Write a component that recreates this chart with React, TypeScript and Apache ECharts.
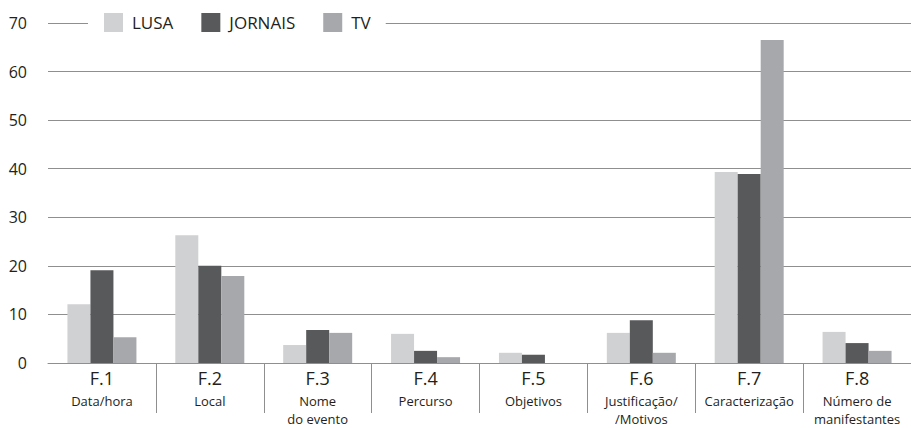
import React, { useEffect, useRef } from "react";
import * as echarts from "echarts";

const codes = ["F.1", "F.2", "F.3", "F.4", "F.5", "F.6", "F.7", "F.8"];
const names = [
  "Data/hora",
  "Local",
  "Nome\ndo evento",
  "Percurso",
  "Objetivos",
  "Justificação/\n/Motivos",
  "Caracterização",
  "Número de\nmanifestantes",
];
const lusa = [12.1, 26.3, 3.7, 6.0, 2.1, 6.2, 39.3, 6.4];
const jornais = [19.1, 20.0, 6.8, 2.5, 1.7, 8.8, 38.9, 4.1];
const tv = [5.3, 17.9, 6.2, 1.2, 0, 2.1, 66.5, 2.5];
const seriesNames = ["LUSA", "JORNAIS", "TV"];
const colors = ["#d0d1d3", "#58595b", "#a7a8ab"];

const FONT = "'Open Sans', 'Noto Sans', sans-serif";
const TEXT = "#231f20";

export default function App() {
  const ref = useRef<HTMLDivElement>(null);
  useEffect(() => {
    if (!ref.current) return;
    const chart = echarts.init(ref.current, null, { renderer: "svg" });
    const categories = codes.map((c, i) => c + "|" + names[i]);
    const data = [lusa, jornais, tv];
    chart.setOption({
      animation: false,
      textStyle: { fontFamily: FONT },
      grid: { left: 48, top: 23, width: 870, height: 340, containLabel: false },
      legend: {
        left: 88,
        top: 13,
        padding: [0, 15, 0, 16],
        backgroundColor: "#ffffff",
        itemWidth: 19,
        itemHeight: 19,
        itemGap: 28,
        icon: "rect",
        textStyle: { fontFamily: FONT, fontSize: 17, color: TEXT, padding: [0, 0, 0, 4] },
        data: seriesNames,
      },
      xAxis: {
        type: "category",
        data: categories,
        axisLine: { show: true, lineStyle: { color: "#8f8f8f", width: 1 } },
        axisTick: {
          show: true,
          length: 50,
          interval: (i: number) => i !== 0,
          lineStyle: { color: "#8f8f8f", width: 1 },
        },
        axisLabel: {
          interval: 0,
          margin: 1,
          formatter: (v: string) => {
            const [c, n] = v.split("|");
            const lines = n.split("\n").map((l) => "{b|" + l + "}");
            return "{a|" + c + "}\n" + lines.join("\n");
          },
          rich: {
            a: { fontFamily: FONT, fontSize: 18, color: TEXT, lineHeight: 28 },
            b: { fontFamily: FONT, fontSize: 13, color: TEXT, lineHeight: 18 },
          },
        },
      },
      yAxis: {
        type: "value",
        min: 0,
        max: 70,
        interval: 10,
        axisLine: { show: false },
        axisTick: { show: false },
        axisLabel: { fontFamily: FONT, fontSize: 16, color: TEXT, margin: 21 },
        splitLine: { lineStyle: { color: "#8f8f8f", width: 1 } },
      },
      series: seriesNames.map((name, i) => ({
        name,
        type: "bar",
        data: data[i],
        barWidth: 23,
        barGap: "0%",
        itemStyle: { color: colors[i] },
      })),
    });
    return () => chart.dispose();
  }, []);
  return <div ref={ref} style={{ width: 911, height: 428, position: "absolute", left: 0, top: 0 }} />;
}
